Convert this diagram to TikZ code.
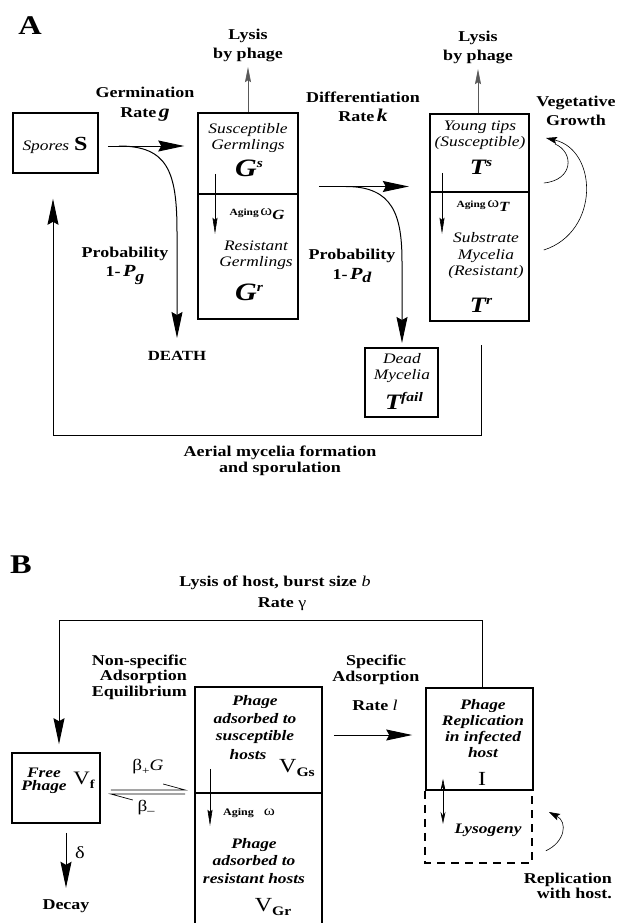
\documentclass[tikz,border=0pt]{standalone}
\usepackage{fontspec}
\setmainfont{Liberation Serif}[FakeStretch=1.2]
\usetikzlibrary{arrows.meta,positioning}
\newcommand{\fs}[2]{\fontsize{#1}{#2}\selectfont}
\newcommand{\suptxt}[2]{\raisebox{#1}{\fs{13}{13}#2}}

\begin{document}
\begin{tikzpicture}[x=1pt,y=-1pt,
  box/.style={draw,line width=1.6pt,inner sep=0pt},
  dbox/.style={line width=1.6pt,dash pattern=on 8pt off 6pt},
  lbl/.style={font=\fs{15}{19.5}\bfseries,align=center,inner sep=0pt,text=black},
  itx/.style={font=\fs{14.5}{16.5}\itshape,align=center,inner sep=0pt},
  bitx/.style={font=\fs{14.5}{17.5}\bfseries\itshape,align=center,inner sep=0pt},
  big/.style={-{Stealth[length=26pt,width=11pt,inset=3pt]},line width=1pt},
  lys/.style={-{Stealth[length=15pt,width=6pt,inset=2pt]},line width=0.6pt,black!65},
  age/.style={-{Stealth[length=16pt,width=5pt,inset=2pt]},line width=0.6pt},
  vg/.style={-{Stealth[length=11pt,width=7pt,inset=2pt]},line width=0.6pt}]
\useasboundingbox (0,0) rectangle (617,923);

% ---------------- Panel A ----------------
\node[font=\fs{27}{27}\bfseries] (labA) at (30,26) {A};

% Spores
\node[box,minimum width=85pt,minimum height=60pt] (spores) at (55.5,143) {};
\node[itx] (sporestxt) at (55,145) {Spores\,\,{\fs{20}{20}\bfseries\upshape S}};

% Germlings
\node[box,minimum width=100pt,minimum height=81pt] (gs) at (248,153.5) {};
\node[box,minimum width=100pt,minimum height=125pt] (gr) at (248,256.5) {};
\node[itx] (gstxt) at (248,138) {Susceptible\\Germlings};
\node (gssym) at (249,168) {\fs{25}{25}\bfseries\itshape G\suptxt{9pt}{\itshape s}};
\draw[age] ([shift={(-33,-21)}]gs.south) -- ([shift={(-33,39)}]gs.south);
\node (agegtxt) at (257,214) {{\fs{9.5}{10}\bfseries Aging}\,{\fs{15}{15}ω}\raisebox{-4pt}{\fs{14}{14}\bfseries\itshape G}};
\node[itx] (grtxt) at (256,255) {Resistant\\Germlings};
\node (grsym) at (249,292) {\fs{25}{25}\bfseries\itshape G\suptxt{9pt}{\itshape r}};
\draw[lys] (gs.north) -- ++(0,-45) node[lbl,above=5pt] (lysg) {Lysis\\by phage};

% Germination
\node[lbl] (germlbl) at (145,104) {Germination\\Rate\,{\fs{18}{18}\itshape g}};
\coordinate (g0) at ([shift={(9,3)}]spores.east);
\coordinate (g1) at (g0 -| gs.west);
\draw[big] (g0) -- ([xshift=-13pt]g1);
\draw[big] ([xshift=11pt]g0) .. controls (168,146) and (177,172) .. (177,232) -- (177,338)
  node[lbl,font=\fs{14}{14}\bfseries,below=13pt] (death) {DEATH};
\node[lbl] (pg) at (125,266) {Probability\\1-\,{\fs{17}{17}\itshape P}\raisebox{-5pt}{\fs{15}{15}\itshape g}};

% Differentiation
\node[lbl] (difflbl) at (363,107) {Differentiation\\Rate\,{\fs{18}{18}\itshape k}};
\coordinate (d0) at ([shift={(20,33)}]gs.east);
\coordinate (d1) at (d0 -| gr.east);
\draw[big] (d0) -- ([xshift=110pt]d1);
\draw[big] ([xshift=27pt]d0) .. controls (393,186.5) and (402,215) .. (402,262) -- (402,343);
\node[lbl] (pd) at (352,266) {Probability\\1-\,{\fs{17}{17}\itshape P}\raisebox{-3pt}{\fs{15}{15}\itshape d}};

% Dead mycelia
\node[box,minimum width=73pt,minimum height=69pt] (fail) at (401.5,382.5) {};
\node[itx] (failtxt) at (402,368) {Dead\\Mycelia};
\node (failsym) at (404,401) {\fs{22}{22}\bfseries\itshape T\suptxt{8pt}{\itshape fail}};

% Tips / substrate mycelia
\node[box,minimum width=99pt,minimum height=78pt] (ts) at (479.5,153) {};
\node[box,minimum width=99pt,minimum height=129pt] (tr) at (479.5,256.5) {};
\node[itx] (tstxt) at (480,135) {Young tips\\(Susceptible)};
\node (tssym) at (481,167) {\fs{22}{22}\bfseries\itshape T\suptxt{8pt}{\itshape s}};
\draw[age] ([shift={(-37.5,-20)}]ts.south) -- ([shift={(-37.5,41)}]ts.south);
\node (agettxt) at (483,206) {{\fs{9.5}{10}\bfseries Aging}\,{\fs{15}{15}ω}\raisebox{-4pt}{\fs{14}{14}\bfseries\itshape T}};
\node[itx] (trtxt) at (486,256) {Substrate\\Mycelia\\(Resistant)};
\node (trsym) at (481,305) {\fs{22}{22}\bfseries\itshape T\suptxt{8pt}{\itshape r}};
\draw[lys] ([xshift=-1.5pt]ts.north) -- ++(0,-44) node[lbl,above=5pt] (lyst) {Lysis\\by phage};

% Vegetative growth
\node[lbl] (veglbl) at (576,111) {Vegetative\\Growth};
\draw[vg] ([shift={(14,-6.5)}]tr.east) .. controls (600,232) and (598,150) .. (546,138);
\draw[line width=0.6pt] ([shift={(14,30)}]ts.east) .. controls (574,180) and (574,152) .. (555,144);

% Aerial mycelia loop
\coordinate (aer0) at (481,345);
\draw[big] (aer0) |- (53,435) -- ([shift={(-2.5,25)}]spores.south);
\node[lbl,font=\fs{15}{16.5}\bfseries] (aerlbl) at (280,461) {Aerial mycelia formation\\and sporulation};

% ---------------- Panel B ----------------
\node[font=\fs{27}{27}\bfseries] (labB) at (21,565) {B};
\node[lbl] (lyshost) at (275,583) {Lysis of host, burst size {\mdseries\itshape b}};
\node[lbl] (rategam) at (282,604) {Rate {\mdseries γ}};

% Free phage
\node[box,minimum width=88pt,minimum height=70pt] (vfree) at (56,788) {};
\node[bitx,font=\fs{14.5}{13.5}\bfseries\itshape] (vfreetxt) at (44,781) {Free\\Phage};
\node (vfsym) at (84,780) {\fs{19}{19}V\raisebox{-4pt}{\fs{12}{12}\bfseries f}};
\draw[big] ([shift={(10,9)}]vfree.south) -- ++(0,55)
  node[lbl,below=11pt] (decay) {Decay};
\node[font=\fs{17}{17}] (delta) at (80,853) {δ};

% Adsorbed phage
\node[box,minimum width=127pt,minimum height=106pt] (vgs) at (258.5,740) {};
\node[box,minimum width=127pt,minimum height=137pt] (vgr) at (258.5,861.5) {};
\node[bitx] (vgstxt) at (255,720) {Phage\\adsorbed to\\susceptible};
\node[bitx] (hoststxt) at (248,755) {hosts};
\node (vgssym) at (297,768) {\fs{20}{20}V\raisebox{-4pt}{\fs{13}{13}\bfseries Gs}};
\draw[age] ([shift={(-48.5,-25)}]vgs.south) -- ([shift={(-48.5,32)}]vgs.south);
\node (agebtxt) at (249,813) {{\fs{10}{10}\bfseries Aging}\quad{\fs{14}{14}ω}};
\node[bitx] (vgrtxt) at (254,861) {Phage\\adsorbed to\\resistant hosts};
\node (vgrsym) at (273,907) {\fs{20}{20}V\raisebox{-4pt}{\fs{13}{13}\bfseries Gr}};

% Non-specific adsorption
\node[lbl,font=\fs{15}{15.5}\bfseries,align=right,anchor=east] (nonspec) at (187,677) {Non-specific\\Adsorption\\Equilibrium};
\coordinate (eq0) at ([shift={(10,2)}]vfree.east);
\coordinate (eq1) at (eq0 -| vgs.west);
\draw[line width=0.7pt] (eq0) -- ([xshift=-9pt]eq1) -- ++(-22,-6);
\draw[line width=0.7pt] ([shift={(22,10)}]eq0) -- ([shift={(0,4)}]eq0) -- ([shift={(-9,4)}]eq1);
\node[font=\fs{16}{16}] (bplus) at (148,767) {β\raisebox{-4pt}{\fs{11}{11}+}\textit{G}};
\node[font=\fs{16}{16}] (bminus) at (146,808) {β\raisebox{-3pt}{\fs{12}{12}–}};

% Infected host
\node[box,minimum width=107pt,minimum height=102pt] (inf) at (479.5,739) {};
\node[bitx,font=\fs{14.5}{16}\bfseries\itshape] (inftxt) at (483,729) {Phage\\Replication\\in infected\\host};
\node[font=\fs{20}{20}] (isym) at (482,779) {I};
\draw[dbox] (inf.south west) -- ++(0,72) -- ++(107,0) -- ++(0,-72);
\node[bitx] (lysog) at (488,830) {Lysogeny};
\draw[{Stealth[length=12pt,width=5pt]}-{Stealth[length=12pt,width=5pt]},line width=0.6pt]
  ([shift={(-36.5,-12)}]inf.south) -- ([shift={(-36.5,33)}]inf.south);
\draw[vg] ([shift={(12,60)}]inf.south east) .. controls (565,842) and (568,822) .. (549,812);
\node[lbl,font=\fs{15}{12.5}\bfseries,align=right,anchor=east] (repl) at (612,886) {Replication\\with host.};

% Specific adsorption
\node[lbl,font=\fs{15}{16}\bfseries] (speclbl) at (376,670) {Specific\\Adsorption};
\node[lbl] (ratel) at (375,705) {Rate {\mdseries\itshape l}};
\draw[big] ([shift={(11,-5)}]vgs.east) -- ([shift={(-13,-4)}]inf.west);

% Lysis loop
\coordinate (lysb) at (59,620);
\draw[big] ([xshift=2.5pt]inf.north) |- (lysb) -- ([shift={(3,-8)}]vfree.north);
\end{tikzpicture}
\end{document}
